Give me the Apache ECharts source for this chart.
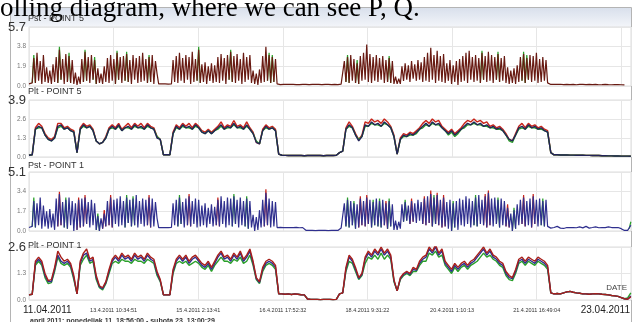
<!DOCTYPE html>
<html><head><meta charset="utf-8">
<script src="https://cdn.jsdelivr.net/npm/echarts@6/dist/echarts.min.js"></script>
<style>html,body{margin:0;padding:0;background:#fff;overflow:hidden}#c{width:635px;height:322px}</style>
</head><body><div id="c"></div><script>
// time in hours from 11.04.2011 18:56:00 to 23.04.2011 13:00:29
const SPAN_H = 282.075;
const TICK_H = 39.6475;
const tickLabels = ['13.4.2011 10:34:51','15.4.2011 2:13:41','16.4.2011 17:52:32','18.4.2011 9:31:22','20.4.2011 1:10:13','21.4.2011 16:49:04'];
const startLabel = '11.04.2011', endLabel = '23.04.2011';
const panelTitles = ['Pst - POINT 5','Plt - POINT 5','Pst - POINT 1','Plt - POINT 1'];
const panelMax = [5.7, 3.9, 5.1, 2.6];
const panelSteps = [3, 3, 3, 2];
const headText = 'olling diagram, where we can see P, Q.';
const footText = 'april 2011: ponedeljak 11. 18:56:00 - subota 23. 13:00:29';
const PST_STEP = 0.75, PLT_STEP = 1.5;

const pst5 = [0.2,0.2,0.3,
 2.7,0.3,3.2,0.5,2.4,0.2,3.0,0.4,
 1.8,0.3,1.5,0.2,2.1,0.4,
 2.8,0.3,3.5,0.6,2.6,0.2,3.1,0.4,2.9,0.3,2.5,
 0.2,1.3,0.1,0.9,0.2,
 2.6,0.4,3.3,0.5,2.8,0.3,3.0,0.6,2.5,
 0.2,1.7,0.3,1.2,0.2,1.9,
 0.4,2.7,0.3,3.0,0.5,2.6,0.2,3.2,0.6,2.8,0.3,2.9,0.5,3.1,0.4,2.5,0.2,3.0,0.6,2.7,0.3,2.9,0.4,3.2,0.5,2.6,0.3,2.8,0.4,3.0,0.2,2.4,1.2,
 0.2,0.18,0.2,0.22,0.2,0.2,0.18,0.2,0.2,
 2.5,0.4,2.9,0.3,3.2,0.5,2.7,0.3,3.0,0.6,2.8,0.2,3.3,0.4,2.6,0.5,3.5,
 0.3,2.1,0.4,2.3,0.2,1.9,0.5,2.2,0.3,2.0,
 0.4,2.8,0.3,3.1,0.5,2.7,0.2,3.0,0.6,3.3,0.4,2.9,0.3,3.1,0.5,2.6,0.2,3.2,0.4,2.8,0.6,3.0,0.3,
 1.5,0.2,1.2,0.1,1.6,0.3,
 2.9,0.4,3.8,0.5,3.0,0.3,2.8,0.4,2.6,
 0.2,
 0.15,0.14,0.16,0.15,0.13,0.15,0.17,0.15,0.14,0.15,0.16,0.14,0.15,0.13,0.15,0.16,0.14,0.15,0.15,0.14,
 0.13,0.15,0.16,0.15,0.14,0.15,0.13,0.14,0.16,0.15,0.14,0.15,0.15,0.13,0.14,0.16,0.15,0.14,0.15,0.18,0.3,
 2.4,0.4,2.8,0.3,3.0,0.5,2.6,0.3,2.2,0.2,2.9,0.5,3.2,0.6,4.0,0.4,3.1,0.3,2.8,0.5,3.0,0.4,2.7,0.6,2.9,0.3,2.5,0.4,2.7,0.3,2.4,0.2,
 0.9,0.2,0.7,0.2,
 1.9,0.5,2.2,0.6,2.0,0.4,2.4,0.7,2.1,0.5,2.5,0.6,2.3,0.4,2.8,
 0.5,3.2,0.4,3.7,0.6,3.0,0.3,3.4,0.5,2.9,0.4,3.1,
 0.3,2.2,0.5,2.5,0.2,2.0,0.4,2.4,0.1,2.6,0.4,
 2.9,0.5,3.2,0.3,3.4,0.6,2.8,0.4,3.0,0.5,2.7,0.3,3.2,0.6,2.9,0.4,3.3,0.5,3.0,0.3,2.8,0.6,3.1,0.4,2.7,0.5,2.9,0.3,
 1.8,0.2,1.5,0.3,1.7,0.2,2.0,
 0.4,2.8,0.5,3.1,0.3,2.7,0.6,3.0,0.4,2.9,0.5,3.2,0.3,2.6,0.4,2.8,0.5,2.5,
 0.3,
 0.18,0.15,0.14,0.16,0.2,0.15,0.13,0.17,0.15,0.14,0.19,0.16,0.15,0.13,0.14,0.16,0.15,0.12,0.14,0.15,
 0.13,0.15,0.17,0.14,0.16,0.15,0.13,0.14,0.15,0.16,0.14,0.12,0.15,0.13,0.14,0.15,0.12,0.13,0.14,0.12,
 0.13,0.14,0.12,0.13,0.11,0.12,0.14,0.1];
const pst5GreenTips = {3:3.0,19:3.8,25:3.2,35:3.5,41:2.8,55:3.4,61:3.3,75:3.0,106:3.8,126:3.5,150:3.2,152:3.0,199:3.0,205:2.5,225:2.9,283:3.4,293:3.3,309:3.3,311:3.0};

const plt5Navy = [0.12,0.15,1.9,2.1,2.0,1.5,1.2,1.1,1.3,2.1,
 2.2,1.9,2.0,1.8,1.7,0.3,1.9,2.2,2.0,2.1,
 1.8,1.1,0.9,1.0,1.3,1.9,2.1,1.9,2.2,1.8,
 2.0,2.1,1.9,2.2,2.0,2.1,1.9,2.2,2.0,1.9,
 1.3,1.2,0.15,0.15,0.15,1.6,2.1,1.9,2.2,2.0,
 2.1,1.9,2.2,2.0,1.7,1.6,1.8,1.6,1.8,2.0,
 2.2,1.9,2.1,2.0,2.3,2.0,2.1,1.9,2.2,1.9,
 1.6,1.0,0.9,1.8,2.1,1.9,2.0,1.8,0.2,
 0.12,0.11,0.1,0.1,0.11,0.1,0.1,0.09,0.1,0.1,0.11,0.1,0.1,0.09,0.1,0.1,0.1,0.12,0.3,
 0.4,1.9,2.2,2.0,1.5,1.1,1.4,2.2,2.1,2.4,
 2.2,2.3,2.1,2.4,2.2,2.0,1.4,0.2,1.2,1.5,
 1.4,1.6,1.5,1.7,1.9,2.1,2.3,2.1,2.4,2.2,
 2.3,2.0,1.8,1.6,1.8,1.5,1.7,1.9,2.1,2.3,
 2.2,2.4,2.2,2.3,2.1,2.2,2.0,2.1,1.9,2.0,
 1.8,1.5,1.2,1.1,1.5,2.0,2.1,1.9,2.2,2.0,
 2.1,1.9,2.0,1.8,1.7,0.3,
 0.15,0.15,0.14,0.14,0.14,0.13,0.13,0.12,0.12,0.12,0.11,0.11,0.1,0.1,0.1,0.09,0.09,0.08,0.08,0.07,0.07,0.06,0.06,0.06,0.05];
const plt5Red = [0.12,0.15,2.0,2.3,2.1,1.6,1.3,1.2,1.4,2.3,
 2.3,2.0,2.1,1.9,1.8,0.3,2.0,2.3,2.1,2.2,
 1.9,1.1,0.9,1.0,1.4,2.0,2.2,2.0,2.3,1.9,
 2.1,2.3,2.0,2.3,2.1,2.3,2.0,2.3,2.1,2.0,
 1.4,1.2,0.15,0.15,0.15,1.7,2.2,2.0,2.3,2.1,
 2.3,2.0,2.3,2.1,1.8,1.7,1.9,1.7,1.9,2.1,
 2.4,2.0,2.2,2.1,2.5,2.1,2.2,2.0,2.4,2.0,
 1.7,1.0,0.9,1.9,2.2,2.0,2.1,1.9,0.2,
 0.12,0.11,0.1,0.1,0.11,0.1,0.1,0.09,0.1,0.1,0.11,0.1,0.1,0.09,0.1,0.1,0.1,0.12,0.3,
 0.4,2.0,2.4,2.1,1.6,1.2,1.5,2.4,2.3,2.6,
 2.4,2.5,2.3,2.6,2.4,2.1,1.5,0.2,1.3,1.6,
 1.5,1.7,1.6,1.8,2.0,2.3,2.5,2.3,2.6,2.4,
 2.5,2.1,1.9,1.7,1.9,1.6,1.8,2.0,2.3,2.5,
 2.4,2.6,2.4,2.5,2.3,2.4,2.1,2.2,2.0,2.1,
 1.9,1.6,1.2,1.1,1.6,2.1,2.3,2.0,2.3,2.1,
 2.2,2.0,2.1,1.9,1.8,0.3,
 0.15,0.15,0.14,0.14,0.14,0.13,0.13,0.12,0.12,0.12,0.11,0.11,0.1,0.1,0.1,0.09,0.09,0.08,0.08,0.07,0.07,0.06,0.06,0.06,0.05];
const plt5Green = [0.12,0.15,1.9,2.0,2.0,1.5,1.2,1.1,1.3,2.0,
 2.1,1.9,2.0,1.8,1.7,0.3,1.9,2.1,2.0,2.1,
 1.8,1.1,0.9,1.0,1.3,1.9,2.0,1.9,2.1,1.8,
 2.0,2.0,1.9,2.1,2.0,2.0,1.9,2.1,2.0,1.9,
 1.4,1.2,0.15,0.15,0.15,1.6,2.0,1.9,2.1,2.0,
 2.0,1.9,2.1,2.0,1.7,1.6,1.8,1.6,1.8,1.9,
 2.1,1.9,2.0,2.0,2.2,2.0,2.0,1.9,2.1,1.9,
 1.6,1.1,0.9,1.8,2.0,1.9,2.0,1.8,0.2,
 0.12,0.11,0.1,0.1,0.11,0.1,0.1,0.09,0.1,0.1,0.11,0.1,0.1,0.09,0.1,0.1,0.1,0.12,0.3,
 0.4,1.9,2.1,2.0,1.5,1.2,1.4,2.1,2.1,2.3,
 2.2,2.2,2.1,2.3,2.2,2.0,1.4,0.2,1.2,1.4,
 1.4,1.5,1.5,1.6,1.9,2.0,2.2,2.1,2.3,2.2,
 2.2,2.0,1.8,1.5,1.7,1.4,1.6,1.9,2.0,2.2,
 2.2,2.3,2.2,2.2,2.1,2.1,2.0,2.0,1.9,1.9,
 1.8,1.5,1.1,1.0,1.5,1.9,2.0,1.9,2.1,2.0,
 2.0,1.9,1.9,1.8,1.7,0.3,
 0.15,0.15,0.14,0.14,0.14,0.13,0.13,0.12,0.12,0.12,0.11,0.11,0.1,0.1,0.1,0.09,0.09,0.08,0.08,0.07,0.07,0.06,0.06,0.06,0.05];

const pst1Blue = [0.3,0.35,0.4,
 2.6,0.3,2.4,0.5,2.9,0.2,2.2,0.4,
 1.7,0.2,1.9,0.3,1.5,0.1,
 2.8,0.4,3.2,0.5,2.5,0.3,2.7,0.2,2.9,0.5,2.6,
 0.0,2.4,0.1,2.7,0.3,
 2.8,0.4,2.9,0.6,2.5,0.3,2.7,0.5,2.4,
 0.1,1.3,0.0,1.1,0.2,1.5,
 0.4,2.6,0.5,2.9,0.3,2.7,0.6,2.8,0.4,3.0,0.5,2.6,0.3,2.9,0.7,2.7,0.4,2.8,0.5,3.1,0.3,2.6,0.6,2.8,0.4,2.7,0.5,2.9,0.3,2.8,0.4,2.5,1.1,
 0.3,0.35,0.3,0.32,0.3,0.35,0.3,0.3,0.32,
 2.4,0.5,2.7,0.4,2.9,0.6,2.5,0.3,2.8,0.5,3.0,0.4,2.6,0.6,2.8,0.3,2.7,
 0.4,2.2,0.5,2.4,0.3,2.0,0.6,2.3,0.4,2.1,
 0.5,2.7,0.4,3.0,0.6,2.6,0.3,2.9,0.5,2.8,0.4,3.0,0.6,2.7,0.3,2.9,0.5,2.6,0.4,2.8,0.2,2.6,0.3,
 1.4,0.0,1.2,0.1,1.8,0.3,
 2.7,0.4,3.3,0.5,2.8,0.3,2.6,0.4,2.5,
 0.3,
 0.3,0.32,0.28,0.3,0.33,0.3,0.28,0.3,0.31,0.29,0.3,0.32,0.3,0.28,0.3,0.29,0.2,
 0.06,0.05,0.05,0.04,0.05,0.05,0.04,0.05,0.05,0.06,0.05,0.04,0.05,0.05,0.04,0.05,0.06,0.05,0.05,0.04,0.05,0.1,0.25,
 0.3,
 2.4,0.4,2.7,0.3,2.6,0.5,2.4,0.2,2.3,0.3,2.8,0.5,2.6,0.4,2.9,0.6,2.7,0.3,2.5,0.5,2.8,0.4,2.6,0.3,2.7,0.5,2.4,0.2,2.6,0.4,2.3,0.1,
 0.9,0.1,0.8,0.2,
 2.3,0.8,2.5,0.9,2.2,0.6,2.6,0.8,2.4,0.7,2.7,0.9,2.5,0.6,2.8,
 0.5,3.0,0.7,3.2,0.4,2.9,0.6,3.1,0.5,2.7,0.3,2.9,
 0.4,2.5,0.2,2.7,0.0,2.4,0.3,2.6,0.1,2.8,0.5,
 2.7,0.4,3.0,0.6,2.8,0.3,2.6,0.5,2.9,0.4,3.1,0.6,2.7,0.5,3.0,0.3,3.3,0.5,2.8,0.4,2.9,0.6,2.7,0.3,2.8,0.5,2.6,0.4,
 2.0,0.3,1.5,0.0,1.8,0.2,2.3,
 0.5,2.7,0.6,2.9,0.4,2.6,0.5,2.8,0.3,3.0,0.6,2.7,0.4,2.8,0.5,2.6,0.4,2.7,
 0.4,
 0.3,0.25,0.35,0.3,0.28,0.4,0.3,0.25,0.3,0.22,0.28,0.3,0.35,0.3,0.25,0.3,0.33,0.28,0.3,0.35,
 0.3,0.27,0.32,0.4,0.3,0.25,0.28,0.3,0.33,0.36,0.3,0.28,0.25,0.3,0.32,0.29,0.3,0.35,0.28,0.3,
 0.26,0.3,0.33,0.3,
 0.28,0.2,0.08,0.05,0.05,0.06,0.2,0.5];
const pst1RedTips = {19:3.4,31:2.9,35:3.1,47:1.8,51:3.1,75:3.1,100:3.2,118:2.9,148:3.6,207:3.0,211:3.1,223:2.6,239:2.8,247:3.0,251:3.5,255:3.3,259:3.1,285:3.2,287:3.5,299:2.3,309:3.1,315:3.2};
const pst1GreenTips = {3:2.9,23:2.9,43:1.5,61:3.1,65:3.0,94:3.1,128:3.2,136:3.0,199:2.9,203:2.6,215:2.7,219:2.8,225:2.8,235:2.7,253:3.1,265:2.6,279:3.1,293:2.9,303:2.0,321:2.8,376:0.8};

const plt1Red = [0.25,0.28,1.9,2.1,1.9,1.3,0.95,1.0,1.6,2.4,
 2.1,1.9,2.0,1.8,1.2,0.3,1.9,2.3,2.5,2.0,
 2.1,1.2,0.7,0.6,0.9,1.5,2.0,2.2,2.0,2.3,
 2.1,2.2,2.0,2.3,2.1,2.2,2.0,2.3,2.1,2.0,
 1.4,1.0,0.25,0.25,0.25,1.5,2.0,2.2,2.0,2.2,
 1.9,2.1,2.2,2.0,1.8,1.7,1.9,1.6,1.9,2.2,
 2.4,2.1,2.2,2.0,2.3,2.1,2.4,2.0,2.2,2.5,
 1.9,1.1,0.9,1.6,1.9,2.0,1.9,1.7,0.3,
 0.3,0.28,0.3,0.27,0.3,0.28,0.26,0.25,
 0.05,0.03,0.03,0.03,0.02,0.03,0.03,0.03,0.02,0.03,0.3,
 0.35,1.6,2.2,2.0,1.6,1.1,1.3,2.1,2.4,2.2,
 2.5,2.3,2.6,2.3,2.5,2.2,1.0,0.45,1.1,1.3,
 1.4,1.3,1.6,1.5,1.9,2.1,2.2,2.6,2.4,2.7,
 2.3,2.5,1.9,1.7,1.5,1.8,1.6,1.8,1.9,1.7,
 1.9,2.0,2.2,2.4,2.6,2.3,2.5,2.2,2.1,1.9,
 1.8,1.4,1.2,1.1,1.5,2.0,2.1,1.9,2.1,2.0,
 1.9,2.1,2.0,1.9,1.7,0.35,
 0.3,0.32,0.3,0.35,0.4,0.42,0.38,0.35,0.33,0.3,0.3,0.28,0.3,0.31,0.3,0.28,0.27,0.25,0.22,0.2,0.18,0.12,0.06,0.04,0.15];
const plt1Green = [0.25,0.28,1.7,1.9,1.7,1.1,0.8,0.85,1.4,2.1,
 1.8,1.7,1.8,1.6,1.0,0.3,1.7,2.0,2.2,1.8,
 1.9,1.0,0.6,0.5,0.8,1.3,1.8,1.9,1.8,2.0,
 1.9,1.9,1.8,2.0,1.9,1.9,1.8,2.0,1.9,1.8,
 1.2,0.9,0.25,0.25,0.25,1.3,1.8,1.9,1.8,1.9,
 1.7,1.8,1.9,1.8,1.6,1.5,1.7,1.4,1.7,1.9,
 2.1,1.9,1.9,1.8,2.0,1.9,2.1,1.8,1.9,2.2,
 1.7,1.0,0.8,1.4,1.7,1.8,1.7,1.5,0.3,
 0.3,0.28,0.3,0.27,0.3,0.28,0.26,0.25,
 0.05,0.03,0.03,0.03,0.02,0.03,0.03,0.03,0.02,0.03,0.3,
 0.35,1.4,1.9,1.8,1.4,1.0,1.2,1.8,2.1,2.0,
 2.2,2.0,2.3,2.0,2.2,2.0,0.9,0.45,1.0,1.2,
 1.3,1.2,1.4,1.4,1.7,1.9,1.9,2.3,2.2,2.4,
 2.1,2.2,1.7,1.5,1.3,1.6,1.4,1.6,1.7,1.5,
 1.7,1.8,1.9,2.1,2.3,2.1,2.2,2.0,1.9,1.7,
 1.6,1.2,1.0,0.95,1.3,1.8,1.9,1.7,1.9,1.8,
 1.7,1.9,1.8,1.7,1.5,0.35,
 0.3,0.32,0.3,0.35,0.4,0.42,0.38,0.35,0.33,0.3,0.3,0.28,0.3,0.31,0.3,0.28,0.27,0.25,0.22,0.2,0.18,0.12,0.06,0.1,0.35];
const plt1Blue = [0.25,0.28,1.8,2.0,1.8,1.2,0.9,0.9,1.5,2.2,
 1.9,1.8,1.9,1.7,1.1,0.3,1.8,2.2,2.3,1.9,
 2.0,1.1,0.65,0.55,0.85,1.4,1.9,2.1,1.9,2.2,
 2.0,2.1,1.9,2.2,2.0,2.1,1.9,2.2,2.0,1.9,
 1.3,0.95,0.25,0.25,0.25,1.4,1.9,2.1,1.9,2.1,
 1.8,2.0,2.1,1.9,1.7,1.6,1.8,1.5,1.8,2.1,
 2.3,2.0,2.1,1.9,2.2,2.0,2.3,1.9,2.1,2.4,
 1.8,1.05,0.85,1.5,1.8,1.9,1.8,1.6,0.3,
 0.3,0.28,0.3,0.27,0.3,0.28,0.26,0.25,
 0.05,0.03,0.03,0.03,0.02,0.03,0.03,0.03,0.02,0.03,0.3,
 0.35,1.5,2.1,1.9,1.5,1.05,1.25,2.0,2.3,2.1,
 2.4,2.2,2.5,2.2,2.4,2.1,0.95,0.45,1.05,1.25,
 1.35,1.25,1.5,1.45,1.8,2.0,2.1,2.5,2.3,2.6,
 2.2,2.4,1.8,1.6,1.4,1.7,1.5,1.7,1.8,1.6,
 1.8,1.9,2.1,2.3,2.5,2.2,2.4,2.1,2.0,1.8,
 1.7,1.3,1.1,1.05,1.4,1.9,2.0,1.8,2.0,1.9,
 1.8,2.0,1.9,1.8,1.6,0.35,
 0.3,0.32,0.3,0.35,0.4,0.42,0.38,0.35,0.33,0.3,0.3,0.28,0.3,0.31,0.3,0.28,0.27,0.25,0.22,0.2,0.18,0.12,0.06,0.04,0.2];

// ---- helpers that turn the arrays into [time, value] pairs
function toPairs(arr, step){ return arr.map((v,i)=>[i*step, v]); }
function tipPairs(main, tips, step){
  const out = [];
  Object.keys(tips).map(Number).sort((a,b)=>a-b).forEach(k=>{
    if (k > 0) out.push([(k-1)*step, main[k-1]]);
    out.push([k*step, tips[k]]);
    if (k+1 < main.length) out.push([(k+1)*step, main[k+1]]);
    out.push([k*step, '-']);
  });
  return out;
}

const grids = [
  {top:27, height:59}, {top:100, height:57}, {top:172, height:59}, {top:247, height:53}
].map(g=>({left:29, width:602, top:g.top, height:g.height, show:true, backgroundColor:'#fff', borderColor:'#dcdcdc', borderWidth:1}));

const xAxes = grids.map((g,p)=>({
  gridIndex:p, type:'value', min:0, max:SPAN_H, interval:TICK_H,
  axisLine:{show:false}, axisTick:{show:false},
  splitLine:{show:true, lineStyle:{color:'#e6e6e6', width:1}},
  axisLabel:{show:p===3, margin:7, fontSize:5.5, color:'#333',
    fontFamily:"'Liberation Sans Narrow','Liberation Sans',sans-serif",
    formatter:(v)=>{const k=Math.round(v/TICK_H); if(Math.abs(v-k*TICK_H)>1e-3||k<1||k>tickLabels.length) return ''; return tickLabels[k-1];}}
}));

const yAxes = panelMax.map((M,p)=>({
  gridIndex:p, type:'value', min:0, max:M, interval:M/panelSteps[p],
  axisLine:{show:false}, axisTick:{show:false},
  splitLine:{show:true, lineStyle:{color:'#e6e6e6', width:1}},
  axisLabel:{margin:3, showMaxLabel:true, showMinLabel:true,
    formatter:(v)=> Math.abs(v-M)<1e-6 ? '{big|'+M.toFixed(1)+'}' : '{s|'+v.toFixed(1)+'}',
    rich:{big:{fontSize:13, color:'#333', fontFamily:'Liberation Sans'}, s:{fontSize:6.5, color:'#777', fontFamily:'Liberation Sans'}}}
}));

function line(p, data, color, width, z){
  return {type:'line', xAxisIndex:p, yAxisIndex:p, data:data, showSymbol:false, symbol:'none',
    connectNulls:false, silent:true, animation:false, z:z, lineStyle:{color:color, width:width}};
}

const BROWN='#681a12', NAVY='#232358', BLUE='#2f2f8e', RED='#c8241a', GREEN='#2aa02a', RED2='#a81f1a';
const series = [
  line(0, tipPairs(pst5, pst5GreenTips, PST_STEP), GREEN, 1.2, 2),
  line(0, toPairs(pst5, PST_STEP), BROWN, 1.2, 3),
  line(1, toPairs(plt5Red, PLT_STEP), RED, 1.4, 2),
  line(1, toPairs(plt5Green, PLT_STEP), GREEN, 1.4, 2),
  line(1, toPairs(plt5Navy, PLT_STEP), NAVY, 1.4, 3),
  line(2, tipPairs(pst1Blue, pst1RedTips, PST_STEP), RED, 1.2, 2),
  line(2, tipPairs(pst1Blue, pst1GreenTips, PST_STEP), GREEN, 1.2, 2),
  line(2, toPairs(pst1Blue, PST_STEP), BLUE, 1.2, 3),
  line(3, toPairs(plt1Green, PLT_STEP), GREEN, 1.4, 2),
  line(3, toPairs(plt1Blue, PLT_STEP), BLUE, 1.4, 2),
  line(3, toPairs(plt1Red, PLT_STEP), RED2, 1.4, 3)
];

const titleY = [19, 92, 166, 246];
const graphic = [
  {type:'rect', z:-10, shape:{x:10.5, y:7.5, width:621, height:330}, style:{fill:'#fff', stroke:'#b4b4b4', lineWidth:1}},
  {type:'rect', z:-9, shape:{x:11, y:8, width:620, height:19},
   style:{fill:{type:'linear', x:0, y:0, x2:0, y2:1, colorStops:[{offset:0,color:'#d9e0ec'},{offset:1,color:'#f3f5f9'}]}}},
  {type:'text', z:50, x:0, y:9, style:{text:headText, font:'27px "Liberation Serif"', fill:'#000', verticalAlign:'middle'}},
  ...panelTitles.map((t,p)=>({type:'text', z:50, x:28, y:titleY[p], style:{text:t, font:'9px "Liberation Sans"', fill:'#333', verticalAlign:'middle'}})),
  {type:'text', z:50, x:23, y:310, style:{text:startLabel, font:'10px "Liberation Sans"', fill:'#222', verticalAlign:'middle'}},
  {type:'text', z:50, x:630, y:310, style:{text:endLabel, font:'10px "Liberation Sans"', fill:'#222', align:'right', verticalAlign:'middle'}},
  {type:'text', z:50, x:627, y:288, style:{text:'DATE', font:'8px "Liberation Sans"', fill:'#444', align:'right', verticalAlign:'middle'}},
  {type:'text', z:50, x:30, y:321, style:{text:footText, font:'bold 7px "Liberation Sans"', fill:'#333', verticalAlign:'middle'}}
];

const chart = echarts.init(document.getElementById('c'), null, {renderer:'canvas'});
chart.setOption({animation:false, backgroundColor:'#fff', grid:grids, xAxis:xAxes, yAxis:yAxes, series:series, graphic:graphic});
</script></body></html>
